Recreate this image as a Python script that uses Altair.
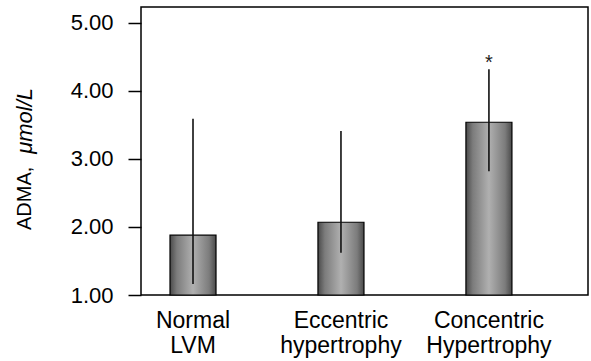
import altair as alt
import pandas as pd

groups = ["Normal\nLVM", "Eccentric\nhypertrophy", "Concentric\nHypertrophy"]
means = [1.88, 2.07, 3.54]
err_low = [1.16, 1.62, 2.82]
err_high = [3.59, 3.41, 4.32]
marks = ["", "", "*"]
y_ticks = [1, 2, 3, 4, 5]

df = pd.DataFrame({"group": groups, "mean": means, "low": err_low, "high": err_high, "mark": marks})

FONT = "Liberation Sans"
ydom = [1, 5.235]

x = alt.X("group:N", sort=groups, title=None,
          scale=alt.Scale(paddingInner=0.689, paddingOuter=0.355, align=0.276),
          axis=alt.Axis(labelAngle=0, ticks=False, domain=False, labelFont=FONT, labelFontSize=23,
                        labelColor="black", labelPadding=14, labelLineHeight=25,
                        labelExpr="split(datum.label, '\\n')"))
y = alt.Y("mean:Q", title=None,
          scale=alt.Scale(domain=ydom, nice=False, zero=False),
          axis=alt.Axis(values=y_ticks, format=".2f", grid=False, tickSize=13, tickColor="black",
                        tickWidth=1.5, domain=False, labelFont=FONT, labelFontSize=22,
                        labelColor="black", labelPadding=15))

grad = alt.Gradient(gradient="linear", x1=0, x2=1, y1=0, y2=0,
                    stops=[alt.GradientStop(color="#4a4a4a", offset=0),
                           alt.GradientStop(color="#7c7c7c", offset=0.15),
                           alt.GradientStop(color="#b0b0b0", offset=0.5),
                           alt.GradientStop(color="#7c7c7c", offset=0.85),
                           alt.GradientStop(color="#4a4a4a", offset=1)])

bars = alt.Chart(df).mark_bar(color=grad, stroke="black", strokeWidth=1.2).encode(
    x=x, y=y, y2=alt.datum(1))

errs = alt.Chart(df).mark_rule(color="#111111", strokeWidth=1.6).encode(
    x=alt.X("group:N", sort=groups), y=alt.Y("low:Q"), y2="high:Q")

stars = alt.Chart(df).mark_text(font=FONT, fontSize=20, dy=-6, color="#222222").encode(
    x=alt.X("group:N", sort=groups), y=alt.Y("high:Q"), text="mark:N")

title_df = pd.DataFrame({"a": ["ADMA,"], "b": ["\u03bcmol/L"]})
t1 = alt.Chart(title_df).mark_text(font=FONT, fontSize=20, angle=270, align="left",
                                   baseline="middle", color="black").encode(
    x=alt.value(-116), y=alt.value(223), text="a:N")
t2 = alt.Chart(title_df).mark_text(font=FONT, fontSize=22, angle=270, align="right",
                                   baseline="middle", fontStyle="italic", color="black").encode(
    x=alt.value(-116), y=alt.value(81), text="b:N")

chart = alt.layer(bars, errs, stars, t1, t2).properties(
    width=447, height=288,
    autosize=alt.AutoSizeParams(type="none"),
    padding={"left": 141, "top": 7, "right": 3, "bottom": 66},
    background="white",
).configure_view(stroke="black", strokeWidth=1.5)

chart.save("out.html", embed_options={"renderer": "svg", "actions": False})
